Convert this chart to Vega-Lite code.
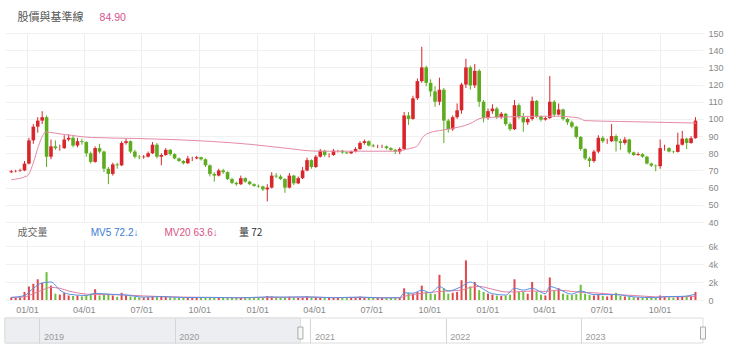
{
"$schema": "https://vega.github.io/schema/vega-lite/v6.json",
"autosize": {"type": "pad"},
"padding": {"left": 4, "top": 12, "right": 0, "bottom": 0},
"background": "white",
"spacing": 18,
"bounds": "flush",
"config": {"view": {"stroke": null}, "font": "Liberation Sans", "axis": {"labelFont": "Liberation Sans", "labelFontSize": 9, "labelColor": "#888", "domain": false, "ticks": false, "title": null, "labelOverlap": false}},
"datasets": {
"k": [
{"d":"2020-12-07","o":69,"h":70.3,"l":68.6,"c":69.5,"v":280},
{"d":"2020-12-14","o":69.5,"h":70.4,"l":68.9,"c":69.7,"v":260},
{"d":"2020-12-21","o":69.7,"h":71,"l":69.2,"c":70,"v":300},
{"d":"2020-12-28","o":70,"h":75.5,"l":69.6,"c":74,"v":900},
{"d":"2021-01-04","o":74,"h":89,"l":73.5,"c":87.5,"v":1500},
{"d":"2021-01-11","o":87.5,"h":97,"l":85.5,"c":95.5,"v":1800},
{"d":"2021-01-18","o":95.5,"h":101,"l":92,"c":99,"v":2300},
{"d":"2021-01-25","o":99,"h":104.5,"l":97,"c":101,"v":1900},
{"d":"2021-02-01","o":101,"h":102,"l":72,"c":78,"v":3100},
{"d":"2021-02-08","o":78,"h":88,"l":76.5,"c":84,"v":1600},
{"d":"2021-02-15","o":84,"h":87.5,"l":82,"c":83,"v":700},
{"d":"2021-02-22","o":83,"h":85,"l":81.5,"c":83,"v":600},
{"d":"2021-03-01","o":83,"h":90.5,"l":82.5,"c":88,"v":800},
{"d":"2021-03-08","o":88,"h":91,"l":87,"c":89,"v":500},
{"d":"2021-03-15","o":89,"h":90,"l":83.5,"c":84.5,"v":450},
{"d":"2021-03-22","o":84.5,"h":89,"l":83.5,"c":87,"v":500},
{"d":"2021-03-29","o":87,"h":88.5,"l":85,"c":86.5,"v":400},
{"d":"2021-04-05","o":86.5,"h":87,"l":78,"c":80,"v":550},
{"d":"2021-04-12","o":80,"h":81,"l":74,"c":75,"v":700},
{"d":"2021-04-19","o":75,"h":84,"l":74.5,"c":83,"v":1200},
{"d":"2021-04-26","o":83,"h":85.5,"l":80,"c":81,"v":500},
{"d":"2021-05-03","o":81,"h":81.5,"l":69,"c":71,"v":650},
{"d":"2021-05-10","o":71,"h":72,"l":62,"c":68,"v":700},
{"d":"2021-05-17","o":68,"h":74.5,"l":67,"c":73.5,"v":500},
{"d":"2021-05-24","o":73.5,"h":74.5,"l":71,"c":73,"v":350},
{"d":"2021-05-31","o":73,"h":87,"l":72.5,"c":86,"v":800},
{"d":"2021-06-07","o":86,"h":88.5,"l":85,"c":87,"v":500},
{"d":"2021-06-14","o":87,"h":87.5,"l":80,"c":81,"v":400},
{"d":"2021-06-21","o":81,"h":82,"l":77,"c":78,"v":350},
{"d":"2021-06-28","o":78,"h":79,"l":76.5,"c":77.7,"v":300},
{"d":"2021-07-05","o":77.7,"h":79,"l":76.8,"c":78,"v":280},
{"d":"2021-07-12","o":78,"h":81,"l":77.5,"c":80,"v":300},
{"d":"2021-07-19","o":80,"h":86.5,"l":79.5,"c":85,"v":450},
{"d":"2021-07-26","o":85,"h":86,"l":77,"c":78,"v":400},
{"d":"2021-08-02","o":78,"h":80,"l":73,"c":79,"v":450},
{"d":"2021-08-09","o":79,"h":83,"l":78.5,"c":82,"v":350},
{"d":"2021-08-16","o":82,"h":82.5,"l":78.5,"c":79.5,"v":300},
{"d":"2021-08-23","o":79.5,"h":80,"l":76.5,"c":77,"v":280},
{"d":"2021-08-30","o":77,"h":77.5,"l":75,"c":75.5,"v":250},
{"d":"2021-09-06","o":75.5,"h":76,"l":73.5,"c":74.2,"v":250},
{"d":"2021-09-13","o":74.2,"h":78.5,"l":73.8,"c":77,"v":300},
{"d":"2021-09-20","o":77,"h":78,"l":75.5,"c":77,"v":250},
{"d":"2021-09-27","o":77,"h":78.5,"l":76.5,"c":77.7,"v":230},
{"d":"2021-10-04","o":77.7,"h":78,"l":75.8,"c":76.5,"v":230},
{"d":"2021-10-11","o":76.5,"h":77,"l":72,"c":73,"v":260},
{"d":"2021-10-18","o":73,"h":73.5,"l":66.5,"c":68,"v":300},
{"d":"2021-10-25","o":68,"h":69,"l":63.5,"c":67,"v":300},
{"d":"2021-11-01","o":67,"h":71,"l":66.5,"c":70,"v":260},
{"d":"2021-11-08","o":70,"h":71,"l":68,"c":69,"v":230},
{"d":"2021-11-15","o":69,"h":69.5,"l":64.5,"c":65,"v":240},
{"d":"2021-11-22","o":65,"h":65.8,"l":62,"c":62.8,"v":250},
{"d":"2021-11-29","o":62.8,"h":63.5,"l":61,"c":62,"v":230},
{"d":"2021-12-06","o":62,"h":67,"l":61.5,"c":65.5,"v":250},
{"d":"2021-12-13","o":65.5,"h":66,"l":62.8,"c":63.5,"v":230},
{"d":"2021-12-20","o":63.5,"h":64,"l":61.5,"c":62,"v":220},
{"d":"2021-12-27","o":62,"h":62.5,"l":60.5,"c":61,"v":210},
{"d":"2022-01-03","o":61,"h":61.8,"l":60,"c":60.7,"v":220},
{"d":"2022-01-10","o":60.7,"h":61.2,"l":58,"c":59,"v":240},
{"d":"2022-01-17","o":59,"h":62,"l":52,"c":60,"v":450},
{"d":"2022-01-24","o":60,"h":69,"l":59.5,"c":67,"v":400},
{"d":"2022-01-31","o":67,"h":68.5,"l":65.5,"c":66.5,"v":280},
{"d":"2022-02-07","o":66.5,"h":67.5,"l":64.5,"c":65,"v":260},
{"d":"2022-02-14","o":65,"h":65.5,"l":57,"c":60,"v":330},
{"d":"2022-02-21","o":60,"h":68.5,"l":59.5,"c":67,"v":360},
{"d":"2022-02-28","o":67,"h":67.5,"l":61.5,"c":62.5,"v":280},
{"d":"2022-03-07","o":62.5,"h":66.5,"l":62,"c":65.5,"v":250},
{"d":"2022-03-14","o":65.5,"h":72,"l":65,"c":70,"v":300},
{"d":"2022-03-21","o":70,"h":77.5,"l":69.5,"c":76,"v":400},
{"d":"2022-03-28","o":76,"h":76.5,"l":71,"c":72,"v":320},
{"d":"2022-04-04","o":72,"h":79,"l":71.5,"c":78,"v":330},
{"d":"2022-04-11","o":78,"h":82.5,"l":77.5,"c":81.5,"v":300},
{"d":"2022-04-18","o":81.5,"h":82,"l":78,"c":79,"v":260},
{"d":"2022-04-25","o":79,"h":80,"l":77.5,"c":79,"v":240},
{"d":"2022-05-02","o":79,"h":82.5,"l":78.5,"c":81.5,"v":260},
{"d":"2022-05-09","o":81.5,"h":82,"l":80.5,"c":81.5,"v":230},
{"d":"2022-05-16","o":81.5,"h":82,"l":79.8,"c":80.5,"v":220},
{"d":"2022-05-23","o":80.5,"h":81,"l":79.5,"c":80,"v":210},
{"d":"2022-05-30","o":80,"h":81.5,"l":79.5,"c":81,"v":220},
{"d":"2022-06-06","o":81,"h":83.5,"l":80.5,"c":82.5,"v":240},
{"d":"2022-06-13","o":82.5,"h":87,"l":82,"c":86,"v":380},
{"d":"2022-06-20","o":86,"h":88,"l":85,"c":87,"v":300},
{"d":"2022-06-27","o":87,"h":87.5,"l":84,"c":84.5,"v":260},
{"d":"2022-07-04","o":84.5,"h":85.5,"l":83.5,"c":84,"v":230},
{"d":"2022-07-11","o":84,"h":85,"l":83,"c":84,"v":220},
{"d":"2022-07-18","o":84,"h":85,"l":83,"c":84,"v":220},
{"d":"2022-07-25","o":84,"h":84.5,"l":82.3,"c":83,"v":220},
{"d":"2022-08-01","o":83,"h":83.5,"l":81.3,"c":82,"v":230},
{"d":"2022-08-08","o":82,"h":82.5,"l":79.5,"c":81,"v":240},
{"d":"2022-08-15","o":81,"h":83.5,"l":79.5,"c":82.5,"v":280},
{"d":"2022-08-22","o":82.5,"h":104,"l":82,"c":102,"v":1300},
{"d":"2022-08-29","o":102,"h":104,"l":96.5,"c":100,"v":800},
{"d":"2022-09-05","o":100,"h":113.5,"l":99.5,"c":112,"v":700},
{"d":"2022-09-12","o":112,"h":123.5,"l":111,"c":122,"v":900},
{"d":"2022-09-19","o":122,"h":142,"l":121,"c":130,"v":1600},
{"d":"2022-09-26","o":130,"h":131,"l":119,"c":121,"v":900},
{"d":"2022-10-03","o":121,"h":123,"l":113,"c":116,"v":700},
{"d":"2022-10-10","o":116,"h":119,"l":107,"c":110,"v":650},
{"d":"2022-10-17","o":110,"h":124,"l":108,"c":117,"v":2800},
{"d":"2022-10-24","o":117,"h":118,"l":86,"c":99,"v":1300},
{"d":"2022-10-31","o":99,"h":100,"l":92,"c":94,"v":700},
{"d":"2022-11-07","o":94,"h":102,"l":93,"c":101,"v":800},
{"d":"2022-11-14","o":101,"h":109,"l":100,"c":105,"v":900},
{"d":"2022-11-21","o":105,"h":121,"l":103,"c":120,"v":2200},
{"d":"2022-11-28","o":120,"h":135,"l":118,"c":130,"v":4400},
{"d":"2022-12-05","o":130,"h":131,"l":117,"c":119.5,"v":1500},
{"d":"2022-12-12","o":119.5,"h":132,"l":118,"c":128,"v":2000},
{"d":"2022-12-19","o":128,"h":129,"l":107,"c":110,"v":1100},
{"d":"2022-12-26","o":110,"h":111,"l":98,"c":100.5,"v":900},
{"d":"2023-01-02","o":100.5,"h":106,"l":99.5,"c":104.5,"v":700},
{"d":"2023-01-09","o":104.5,"h":108.5,"l":103,"c":106,"v":600},
{"d":"2023-01-16","o":106,"h":107,"l":100,"c":101,"v":500},
{"d":"2023-01-23","o":101,"h":104,"l":100,"c":103,"v":450},
{"d":"2023-01-30","o":103,"h":103.5,"l":96,"c":97,"v":500},
{"d":"2023-02-06","o":97,"h":98,"l":93,"c":94,"v":600},
{"d":"2023-02-13","o":94,"h":111,"l":93.5,"c":108,"v":2300},
{"d":"2023-02-20","o":108,"h":109,"l":100,"c":101,"v":900},
{"d":"2023-02-27","o":101,"h":103.5,"l":92.5,"c":98,"v":900},
{"d":"2023-03-06","o":98,"h":101,"l":96.5,"c":100,"v":700},
{"d":"2023-03-13","o":100,"h":113,"l":99,"c":110.5,"v":2000},
{"d":"2023-03-20","o":110.5,"h":111,"l":100.5,"c":101.5,"v":900},
{"d":"2023-03-27","o":101.5,"h":102,"l":98.5,"c":99.6,"v":600},
{"d":"2023-04-03","o":99.6,"h":101.5,"l":99,"c":100.5,"v":500},
{"d":"2023-04-10","o":100.5,"h":125,"l":100,"c":110,"v":2500},
{"d":"2023-04-17","o":110,"h":111,"l":101,"c":102.5,"v":1000},
{"d":"2023-04-24","o":102.5,"h":109,"l":102,"c":105.5,"v":1300},
{"d":"2023-05-01","o":105.5,"h":106,"l":99,"c":100,"v":700},
{"d":"2023-05-08","o":100,"h":100.5,"l":96.5,"c":98,"v":600},
{"d":"2023-05-15","o":98,"h":99,"l":94.5,"c":95.5,"v":550},
{"d":"2023-05-22","o":95.5,"h":96,"l":88.5,"c":89.5,"v":650},
{"d":"2023-05-29","o":89.5,"h":90,"l":81.5,"c":82.5,"v":1700},
{"d":"2023-06-05","o":82.5,"h":83,"l":76,"c":77,"v":700},
{"d":"2023-06-12","o":77,"h":78,"l":72,"c":75.5,"v":550},
{"d":"2023-06-19","o":75.5,"h":82,"l":74.5,"c":81,"v":500},
{"d":"2023-06-26","o":81,"h":90.5,"l":80,"c":89,"v":600},
{"d":"2023-07-03","o":89,"h":90,"l":86,"c":87,"v":450},
{"d":"2023-07-10","o":87,"h":88.5,"l":85.5,"c":87,"v":400},
{"d":"2023-07-17","o":87,"h":97,"l":86.5,"c":90,"v":600},
{"d":"2023-07-24","o":90,"h":91,"l":81,"c":87,"v":800},
{"d":"2023-07-31","o":87,"h":88.5,"l":82,"c":86,"v":450},
{"d":"2023-08-07","o":86,"h":89.5,"l":85,"c":88,"v":400},
{"d":"2023-08-14","o":88,"h":88.5,"l":79.5,"c":80.5,"v":350},
{"d":"2023-08-21","o":80.5,"h":81,"l":78.5,"c":79,"v":300},
{"d":"2023-08-28","o":79,"h":80.5,"l":78.5,"c":79.5,"v":280},
{"d":"2023-09-04","o":79.5,"h":80,"l":77.5,"c":78,"v":260},
{"d":"2023-09-11","o":78,"h":78.5,"l":73.5,"c":74,"v":280},
{"d":"2023-09-18","o":74,"h":74.5,"l":72,"c":72.8,"v":260},
{"d":"2023-09-25","o":72.8,"h":73.5,"l":69.5,"c":72.5,"v":250},
{"d":"2023-10-02","o":72.5,"h":88,"l":71,"c":83,"v":500},
{"d":"2023-10-09","o":83,"h":85,"l":81.5,"c":83,"v":350},
{"d":"2023-10-16","o":83,"h":83.5,"l":80.5,"c":81,"v":280},
{"d":"2023-10-23","o":81,"h":81.5,"l":80,"c":80.8,"v":260},
{"d":"2023-10-30","o":80.8,"h":92,"l":80.5,"c":85,"v":400},
{"d":"2023-11-06","o":85,"h":93,"l":84.5,"c":88.5,"v":450},
{"d":"2023-11-13","o":88.5,"h":89,"l":82.5,"c":86,"v":350},
{"d":"2023-11-20","o":86,"h":90,"l":85.5,"c":88.8,"v":400},
{"d":"2023-11-27","o":88.8,"h":101,"l":88.5,"c":99,"v":900}
],
"ma": [
{"d":"2020-12-07","v":64.6},{"d":"2021-01-02","v":67},{"d":"2021-01-11","v":74.5},{"d":"2021-01-19","v":84},{"d":"2021-01-26","v":90.4},{"d":"2021-01-30","v":92.3},{"d":"2021-03-02","v":90.9},{"d":"2021-04-13","v":89.2},{"d":"2021-06-24","v":88.6},{"d":"2021-08-17","v":88},{"d":"2021-12-24","v":85.1},{"d":"2022-02-14","v":83},{"d":"2022-04-08","v":81.2},{"d":"2022-06-14","v":81.2},{"d":"2022-08-11","v":81.2},{"d":"2022-08-27","v":82.5},{"d":"2022-09-11","v":84},{"d":"2022-09-21","v":89.6},{"d":"2022-10-02","v":92},{"d":"2022-10-17","v":93.2},{"d":"2022-11-02","v":94.2},{"d":"2022-12-03","v":97},{"d":"2022-12-24","v":100.6},{"d":"2023-01-15","v":101},{"d":"2023-04-19","v":101.6},{"d":"2023-05-25","v":100.6},{"d":"2023-06-05","v":99},{"d":"2023-07-31","v":98.5},{"d":"2023-11-28","v":97.6}
],
"vma": [
{"d":"2020-12-07","m5":280,"m20":300},{"d":"2020-12-28","m5":500,"m20":350},{"d":"2021-01-11","m5":1300,"m20":700},{"d":"2021-01-25","m5":1900,"m20":1100},{"d":"2021-02-08","m5":2000,"m20":1400},{"d":"2021-02-22","m5":1100,"m20":1300},{"d":"2021-03-08","m5":650,"m20":1000},{"d":"2021-04-05","m5":500,"m20":650},{"d":"2021-04-19","m5":750,"m20":600},{"d":"2021-05-10","m5":650,"m20":600},{"d":"2021-06-07","m5":550,"m20":550},{"d":"2021-07-05","m5":320,"m20":450},{"d":"2021-08-02","m5":380,"m20":380},{"d":"2021-09-06","m5":270,"m20":320},{"d":"2021-10-18","m5":290,"m20":280},{"d":"2021-12-06","m5":240,"m20":260},{"d":"2022-01-17","m5":350,"m20":270},{"d":"2022-02-14","m5":320,"m20":300},{"d":"2022-03-21","m5":360,"m20":310},{"d":"2022-05-02","m5":250,"m20":270},{"d":"2022-06-13","m5":330,"m20":270},{"d":"2022-07-18","m5":230,"m20":260},{"d":"2022-08-15","m5":260,"m20":250},{"d":"2022-08-22","m5":800,"m20":400},{"d":"2022-09-05","m5":750,"m20":600},{"d":"2022-09-19","m5":1100,"m20":750},{"d":"2022-10-03","m5":800,"m20":850},{"d":"2022-10-17","m5":1500,"m20":950},{"d":"2022-10-31","m5":1000,"m20":1000},{"d":"2022-11-21","m5":1500,"m20":1100},{"d":"2022-12-05","m5":2000,"m20":1400},{"d":"2022-12-19","m5":1500,"m20":1500},{"d":"2023-01-09","m5":700,"m20":1200},{"d":"2023-01-30","m5":550,"m20":900},{"d":"2023-02-13","m5":1300,"m20":900},{"d":"2023-02-27","m5":1100,"m20":950},{"d":"2023-03-13","m5":1300,"m20":1000},{"d":"2023-04-03","m5":700,"m20":950},{"d":"2023-04-10","m5":1500,"m20":1000},{"d":"2023-04-24","m5":1200,"m20":1100},{"d":"2023-05-15","m5":650,"m20":950},{"d":"2023-05-29","m5":1000,"m20":850},{"d":"2023-06-19","m5":600,"m20":800},{"d":"2023-07-24","m5":600,"m20":600},{"d":"2023-08-21","m5":350,"m20":500},{"d":"2023-09-25","m5":260,"m20":350},{"d":"2023-10-09","m5":380,"m20":330},{"d":"2023-11-06","m5":400,"m20":360},{"d":"2023-11-27","m5":650,"m20":420}
],
"nav": [{"s":"2018-09-30","e":"2023-11-26"}],
"navsel": [{"s":"2018-09-30","e":"2020-12-05"}],
"handles": [{"t":"2020-12-05"},{"t":"2023-11-26"}]
},
"vconcat": [
{
"width": 698, "height": 189,
"encoding": {
  "y": {"type": "quantitative", "scale": {"domain": [40, 150], "nice": false, "zero": false}, "axis": {"orient": "right", "values": [40,50,60,70,80,90,100,110,120,130,140,150], "tickCount": 12, "labelOverlap": false, "grid": true, "gridColor": "#f1f1f1", "labelPadding": 5}}
},
"layer": [
{"data": {"name": "k"}, "mark": {"type": "rule", "strokeWidth": 1},
 "encoding": {
  "x": {"field": "d", "type": "temporal", "scale": {"domain": [{"year":2020,"month":12,"date":5},{"year":2023,"month":12,"date":1}]}, "axis": {"grid": true, "gridColor": "#eeeeee", "labels": false, "tickCount": {"interval": "month", "step": 3}}},
  "y": {"field": "l", "type": "quantitative"},
  "y2": {"field": "h"},
  "color": {"condition": {"test": "datum.c >= datum.o", "value": "#d9262c"}, "value": "#5dab1f"}
 }},
{"data": {"name": "k"}, "mark": {"type": "bar", "size": 3.6},
 "encoding": {
  "x": {"field": "d", "type": "temporal"},
  "y": {"field": "o", "type": "quantitative"},
  "y2": {"field": "c"},
  "color": {"condition": {"test": "datum.c >= datum.o", "value": "#d9262c"}, "value": "#5dab1f"}
 }},
{"data": {"name": "ma"}, "mark": {"type": "line", "color": "#e48aa6", "strokeWidth": 1, "interpolate": "monotone"},
 "encoding": {"x": {"field": "d", "type": "temporal"}, "y": {"field": "v", "type": "quantitative"}}},
{"data": {"values": [{}]}, "mark": {"type": "text", "align": "left", "baseline": "middle", "font": "Noto Sans CJK TC", "fontSize": 11, "color": "#555"},
 "encoding": {"x": {"datum": {"year":2020,"month":12,"date":17}, "type": "temporal"}, "y": {"datum": 158.7, "type": "quantitative"}, "text": {"value": "股價與基準線"}}},
{"data": {"values": [{}]}, "mark": {"type": "text", "align": "left", "baseline": "middle", "font": "Liberation Sans", "fontSize": 10.5, "color": "#d6528c"},
 "encoding": {"x": {"datum": {"year":2021,"month":4,"date":26}, "type": "temporal"}, "y": {"datum": 158.7, "type": "quantitative"}, "text": {"value": "84.90"}}}
]
},
{
"width": 698, "height": 60,
"encoding": {
  "y": {"type": "quantitative", "scale": {"domain": [0, 6667], "nice": false}, "axis": {"orient": "right", "values": [0,2000,4000,6000], "labelOverlap": false, "grid": true, "gridColor": "#f1f1f1", "labelPadding": 5, "labelExpr": "datum.value == 0 ? '0' : (datum.value/1000) + 'k'"}}
},
"layer": [
{"data": {"name": "k"}, "mark": {"type": "bar", "size": 2},
 "encoding": {
  "x": {"field": "d", "type": "temporal", "scale": {"domain": [{"year":2020,"month":12,"date":5},{"year":2023,"month":12,"date":1}]}, "axis": {"grid": true, "gridColor": "#eeeeee", "format": "%m/%d", "labelPadding": 5, "tickCount": {"interval": "month", "step": 3}}},
  "y": {"field": "v", "type": "quantitative"},
  "color": {"condition": {"test": "datum.c >= datum.o", "value": "#e0474c"}, "value": "#6cbf3a"}
 }},
{"data": {"name": "vma"}, "mark": {"type": "line", "color": "#e27d9f", "strokeWidth": 1, "interpolate": "monotone"},
 "encoding": {"x": {"field": "d", "type": "temporal"}, "y": {"field": "m20", "type": "quantitative"}}},
{"data": {"name": "vma"}, "mark": {"type": "line", "color": "#5b8fe0", "strokeWidth": 1, "interpolate": "monotone"},
 "encoding": {"x": {"field": "d", "type": "temporal"}, "y": {"field": "m5", "type": "quantitative"}}},
{"data": {"values": [{}]}, "mark": {"type": "text", "align": "left", "baseline": "middle", "font": "Noto Sans CJK TC", "fontSize": 10, "color": "#666"},
 "encoding": {"x": {"datum": {"year":2020,"month":12,"date":17}, "type": "temporal"}, "y": {"datum": 7445, "type": "quantitative"}, "text": {"value": "成交量"}}},
{"data": {"values": [{}]}, "mark": {"type": "text", "align": "left", "baseline": "middle", "font": "Liberation Sans", "fontSize": 10, "color": "#3b7bd6"},
 "encoding": {"x": {"datum": {"year":2021,"month":4,"date":12}, "type": "temporal"}, "y": {"datum": 7445, "type": "quantitative"}, "text": {"value": "MV5 72.2↓"}}},
{"data": {"values": [{}]}, "mark": {"type": "text", "align": "left", "baseline": "middle", "font": "Liberation Sans", "fontSize": 10, "color": "#d9527f"},
 "encoding": {"x": {"datum": {"year":2021,"month":8,"date":7}, "type": "temporal"}, "y": {"datum": 7445, "type": "quantitative"}, "text": {"value": "MV20 63.6↓"}}},
{"data": {"values": [{}]}, "mark": {"type": "text", "align": "left", "baseline": "middle", "font": "Noto Sans CJK TC", "fontSize": 10, "color": "#333"},
 "encoding": {"x": {"datum": {"year":2021,"month":12,"date":3}, "type": "temporal"}, "y": {"datum": 7445, "type": "quantitative"}, "text": {"value": "量 72"}}}
]
},
{
"width": 698, "height": 25,
"layer": [
{"data": {"name": "nav"}, "mark": {"type": "rect", "fill": "#ffffff", "stroke": "#dddddd", "strokeWidth": 1},
 "encoding": {
  "x": {"field": "s", "type": "temporal", "scale": {"domain": [{"year":2018,"month":9,"date":30},{"year":2023,"month":11,"date":26}]}, "axis": {"grid": true, "gridColor": "#d6d6d6", "zindex": 1, "format": "%Y", "labelAlign": "left", "labelOffset": 4, "labelPadding": -11, "labelColor": "#999", "tickCount": {"interval": "year", "step": 1}}},
  "x2": {"field": "e"},
  "y": {"datum": 0, "type": "quantitative", "scale": {"domain": [0, 1]}, "axis": null},
  "y2": {"datum": 1}
 }},
{"data": {"name": "navsel"}, "mark": {"type": "rect", "fill": "#eceef2", "stroke": "#dddddd", "strokeWidth": 1},
 "encoding": {"x": {"field": "s", "type": "temporal"}, "x2": {"field": "e"}, "y": {"datum": 0, "type": "quantitative"}, "y2": {"datum": 1}}},
{"data": {"name": "handles"}, "mark": {"type": "tick", "orient": "vertical", "size": 12, "thickness": 5, "color": "#f7f7f7", "stroke": "#999999", "strokeWidth": 0.8, "opacity": 1},
 "encoding": {"x": {"field": "t", "type": "temporal"}, "y": {"datum": 0.4, "type": "quantitative"}}}
]
}
]
}
